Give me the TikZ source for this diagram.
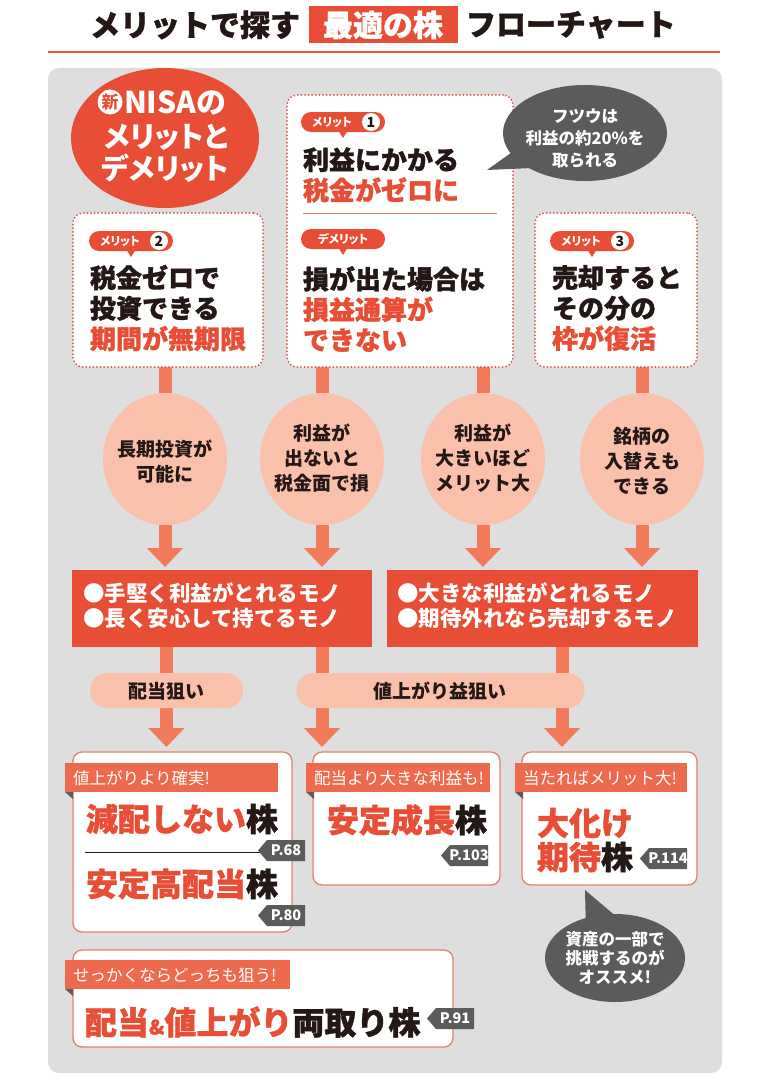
\documentclass[tikz,border=0pt]{standalone}
\usepackage{fontspec}
\setmainfont{Noto Sans CJK JP}
\newfontfamily\jpp{Noto Sans CJK JP}[RawFeature=+palt]
\newfontfamily\jph{Noto Sans CJK JP}[BoldFeatures={FakeBold=1.2}]
\usetikzlibrary{shapes.geometric,arrows.meta}
\definecolor{jred}{HTML}{E84E36}
\definecolor{tagred}{HTML}{EE6A4C}
\definecolor{arrowc}{HTML}{F27A5B}
\definecolor{peach}{HTML}{F9C0AA}
\definecolor{panel}{HTML}{DEDEDE}
\definecolor{darkg}{HTML}{5B5B5B}
\definecolor{boxred}{HTML}{E0826E}
\definecolor{dotred}{HTML}{D5574A}
\definecolor{ink}{HTML}{231815}
\newcommand\myfs[2]{\fontsize{#1}{#2}\selectfont}
\pgfdeclarelayer{bg}\pgfdeclarelayer{cn}\pgfsetlayers{bg,cn,main}
% merit tag: name, left x, center y, number
\newcommand\mtag[4]{%
 \fill[jred] (#2+37,#3+8) -- (#2+42,#3+16) -- (#2+47,#3+8) -- cycle;
 \node[fill=jred, rounded corners=10pt, minimum width=84pt, minimum height=20pt] (#1) at (#2+42,#3) {};
 \node[text=white, font=\jpp\myfs{11.5}{11.5}\bfseries] (#1-t) at (#2+31,#3) {メリット};
 \node[circle, fill=white, minimum size=18pt, font=\myfs{14}{14}\bfseries] (#1-n) at (#2+70,#3) {#4};
}
\newcommand\dtag[3]{%
 \fill[jred] (#2+37,#3+8) -- (#2+42,#3+16) -- (#2+47,#3+8) -- cycle;
 \node[fill=jred, rounded corners=10pt, minimum width=84pt, minimum height=20pt] (#1) at (#2+42,#3) {};
 \node[text=white, font=\jpp\myfs{11.5}{11.5}\bfseries] (#1-t) at (#2+42,#3) {デメリット};
}
% page tag: name, left x, top y, text
\newcommand\ptag[4]{%
 \fill[darkg] (#2,#3+10.5) -- (#2+9,#3) -- (#2+47,#3) -- (#2+47,#3+21) -- (#2+9,#3+21) -- cycle;
 \node[text=white, font=\myfs{14.5}{14.5}\bfseries] (#1) at (#2+28,#3+10.5) {#4};
}
% result band: name, left x, top y, width, text
\newcommand\band[5]{%
 \node[fill=tagred, minimum width=#4pt, minimum height=29pt, anchor=north west] (#1) at (#2,#3) {};
 \fill[darkg] (#2,#3+29) -- (#2+8,#3+29) -- (#2+8,#3+36) -- cycle;
 \node[anchor=west, text=white, font=\myfs{16.5}{16.5}] (#1-t) at (#2+8,#3+15) {#5};
}
\begin{document}
\begin{tikzpicture}[x=1pt,y=-1pt,
  every node/.style={inner sep=0pt, outer sep=0pt, text=ink},
  dotbox/.style={draw=dotred, line width=2pt, dash pattern=on 0pt off 3.6pt, line cap=round, fill=white, rounded corners=10pt},
  resbox/.style={draw=boxred, line width=1.3pt, fill=white, rounded corners=9pt},
  conn/.style={draw=arrowc, line width=13pt},
  arr/.style={conn, -{Triangle[width=35pt,length=19pt]}},
  boxtxt/.style={anchor=west, align=left, font=\jph\myfs{26}{30.5}\bfseries},
  circtxt/.style={align=center, font=\myfs{19}{25}\bfseries},
  redtxt/.style={anchor=west, align=left, text=white, font=\myfs{21.5}{25}\bfseries},
  bigtxt/.style={anchor=west, font=\jph\myfs{32}{35}\bfseries},
  graytxt/.style={align=center, text=white, font=\myfs{16.5}{#1}\bfseries}]
\useasboundingbox (0,0) rectangle (772,1081);
\begin{pgfonlayer}{bg}
\fill[white] (0,0) rectangle (772,1081);
\fill[panel, rounded corners=11pt] (48,68) rectangle (722,1073);
\end{pgfonlayer}

% title
\node[fill=jred, minimum width=149pt, minimum height=37pt, text=white, font=\jph\myfs{30}{30}\bfseries] (tbox) at (383,25) {最適の株};
\node[anchor=east, font=\jph\myfs{30}{30}\bfseries] (tl) at (300,25) {メリットで探す};
\node[anchor=west, font=\jph\myfs{30}{30}\bfseries] (tr) at (466,25) {フローチャート};
\draw[draw=jred!85!orange, line width=1.2pt] (48,52) -- (720,52);

% NISA ellipse
\node[ellipse, fill=jred, minimum width=188pt, minimum height=140pt] (nisa) at (165,138) {};
\node[circle, fill=white, minimum size=25pt, text=jred, font=\myfs{17}{17}\bfseries] (shin) at (110,102) {新};
\node[anchor=west, text=white, font=\jpp\myfs{30}{30}\bfseries] (nisa1) at (124,103) {NISAの};
\node[text=white, font=\jpp\myfs{29}{29}\bfseries] (nisa2) at (166,137) {メリットと};
\node[text=white, font=\jpp\myfs{29}{29}\bfseries] (nisa3) at (165,168) {デメリット};

% merit boxes
\node[dotbox, minimum width=190pt, minimum height=154pt] (b2) at (168,290) {};
\node[dotbox, minimum width=226pt, minimum height=272pt] (b1) at (400,231) {};
\node[dotbox, minimum width=162pt, minimum height=154pt] (b3) at (616,290) {};
\mtag{t1}{301}{122}{1}
\dtag{td}{301}{239}
\mtag{t2}{89}{241}{2}
\mtag{t3}{550}{241}{3}
\node[boxtxt] (b1a) at (303,175) {利益にかかる\\\textcolor{jred}{税金がゼロに}};
\draw[boxred, line width=1pt] (303,213) -- (497,213);
\node[boxtxt] (b1b) at (303,309) {損が出た場合は\\\textcolor{jred}{損益通算が}\\\textcolor{jred}{できない}};
\node[boxtxt] (b2a) at (90,308) {税金ゼロで\\投資できる\\\textcolor{jred}{期間が無期限}};
\node[boxtxt] (b3a) at (552,308) {売却すると\\その分の\\\textcolor{jred}{枠が復活}};

% gray bubble 1
\fill[darkg] (487,170) -- (522,145) -- (532,168) -- cycle;
\node[ellipse, fill=darkg, minimum width=164pt, minimum height=96pt] (g1) at (585,133) {};
\node[graytxt=22] (g1-t) at (585,138) {フツウは\\利益の約20\%を\\取られる};

% circles
\node[ellipse, fill=peach, minimum width=124pt, minimum height=132pt] (c1) at (165,459) {};
\node[ellipse, fill=peach, minimum width=124pt, minimum height=132pt] (c2) at (322,459) {};
\node[ellipse, fill=peach, minimum width=124pt, minimum height=132pt] (c3) at (483,459) {};
\node[ellipse, fill=peach, minimum width=124pt, minimum height=132pt] (c4) at (642,459) {};
\node[circtxt] (c1-t) at (165,462) {長期投資が\\可能に};
\node[circtxt] (c2-t) at (322,458) {利益が\\出ないと\\税金面で損};
\node[circtxt] (c3-t) at (483,458) {利益が\\大きいほど\\メリット大};
\node[circtxt] (c4-t) at (642,461) {銘柄の\\入替えも\\できる};

% red boxes
\node[fill=jred, minimum width=300pt, minimum height=77pt] (r1) at (222,608.5) {};
\node[fill=jred, minimum width=311pt, minimum height=77pt] (r2) at (542.5,608.5) {};
\node[redtxt] (r1-t) at (83,606) {●手堅く利益がとれるモノ\\●長く安心して持てるモノ};
\node[redtxt] (r2-t) at (397,606) {●大きな利益がとれるモノ\\●期待外れなら売却するモノ};

% pills
\node[fill=peach, rounded corners=17pt, minimum width=153pt, minimum height=35pt] (p1) at (166.5,690.5) {};
\node[fill=peach, rounded corners=17pt, minimum width=288pt, minimum height=35pt] (p2) at (440.5,690.5) {};
\node[font=\myfs{19}{19}\bfseries] (p1-t) at (166.5,691) {配当狙い};
\node[font=\myfs{19}{19}\bfseries] (p2-t) at (440,691) {値上がり益狙い};
\coordinate (x3) at (562,0);

% result boxes
\node[resbox, minimum width=219pt, minimum height=180pt] (A) at (182.5,842) {};
\band{A-b}{65}{763}{213}{値上がりより確実!}
\node[bigtxt] (A-1) at (86,819) {\textcolor{jred}{減配しない}株};
\draw[ink, line width=0.8pt] (85,852) -- (262,852);
\node[bigtxt] (A-2) at (86,884) {\textcolor{jred}{安定高配当}株};
\ptag{pA1}{258}{840}{P.68}
\ptag{pA2}{258}{905}{P.80}

\node[resbox, minimum width=187pt, minimum height=133pt] (B) at (406.5,818.5) {};
\band{B-b}{306}{763}{184}{配当より大きな利益も!}
\node[bigtxt] (B-1) at (327,820) {\textcolor{jred}{安定成長}株};
\ptag{pB}{441}{845}{P.103}

\node[resbox, minimum width=175pt, minimum height=133pt] (C) at (609.5,818.5) {};
\band{C-b}{515}{763}{172}{当たればメリット大!}
\node[bigtxt] (C-1) at (537,823) {\textcolor{jred}{大化け}};
\node[bigtxt] (C-2) at (537,857) {\textcolor{jred}{期待}株};
\ptag{pC}{640}{848}{P.114}

% gray bubble 2
\fill[darkg] (585,890) -- (586,932) -- (618,918) -- cycle;
\node[ellipse, fill=darkg, minimum width=140pt, minimum height=88pt] (g2) at (615,958) {};
\node[graytxt=19] (g2-t) at (615,958) {資産の一部で\\挑戦するのが\\オススメ!};

\node[resbox, minimum width=380pt, minimum height=97pt] (D) at (263,998.5) {};
\band{D-b}{65}{960}{225}{せっかくならどっちも狙う!}
\node[bigtxt] (D-1) at (85,1022) {\textcolor{jred}{配当{\myfs{20}{20}\&}値上がり}両取り株};
\ptag{pD}{427}{1008}{P.91}

% connectors
\begin{pgfonlayer}{cn}
\draw[conn] (b2.south -| c1.center) -- (c1.north);
\draw[conn] (b1.south -| c2.center) -- (c2.north);
\draw[conn] (b1.south -| c3.center) -- (c3.north);
\draw[conn] (b3.south -| c4.center) -- (c4.north);
\draw[arr, shorten >=3pt] (c1.south) -- (r1.north -| c1.south);
\draw[arr, shorten >=3pt] (c2.south) -- (r1.north -| c2.south);
\draw[arr, shorten >=3pt] (c3.south) -- (r2.north -| c3.south);
\draw[arr, shorten >=3pt] (c4.south) -- (r2.north -| c4.south);
\draw[conn] (r1.south -| p1.center) -- (p1.north);
\draw[conn] (r1.south -| c2.center) -- (p2.north -| c2.center);
\draw[conn] (r2.south -| x3) -- (p2.north -| x3);
\draw[arr, shorten >=5pt] (p1.south) -- (A.north -| p1.south);
\draw[arr, shorten >=5pt] (p2.south -| c2.center) -- (B.north -| c2.center);
\draw[arr, shorten >=5pt] (p2.south -| x3) -- (C.north -| x3);
\end{pgfonlayer}
\end{tikzpicture}
\end{document}
